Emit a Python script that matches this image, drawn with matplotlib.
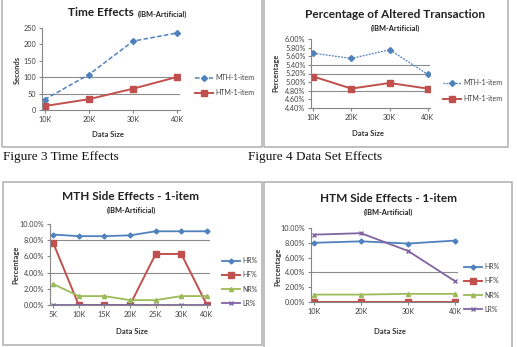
import matplotlib
matplotlib.use("Agg")
import matplotlib.pyplot as plt
from matplotlib.patches import Rectangle
from matplotlib.ticker import FuncFormatter

W, H = 517, 347

# data
sizes4 = ["10K", "20K", "30K", "40K"]
time_mth = [32, 108, 210, 235]
time_htm = [12, 33, 65, 101]

alt_mth = [5.67, 5.55, 5.75, 5.18]
alt_htm = [5.13, 4.85, 4.98, 4.85]

sizes7 = ["5K", "10K", "15K", "20K", "25K", "30K", "40K"]
mth_hr = [8.7, 8.5, 8.5, 8.6, 9.1, 9.1, 9.1]
mth_hf = [7.7, 0.0, 0.0, 0.0, 6.3, 6.3, 0.0]
mth_nr = [2.6, 1.1, 1.1, 0.6, 0.6, 1.1, 1.1]
mth_lr = [0.0, 0.0, 0.0, 0.0, 0.0, 0.0, 0.0]

htm_hr = [8.0, 8.2, 7.9, 8.3]
htm_hf = [0.0, 0.0, 0.0, 0.0]
htm_nr = [1.0, 1.0, 1.1, 1.1]
htm_lr = [9.1, 9.3, 6.9, 2.8]

BLUE = "#4F81BD"
RED = "#C0504D"
GREEN = "#9BBB59"
PURPLE = "#8064A2"

plt.rcParams["font.family"] = ["Lato", "DejaVu Sans"]

fig = plt.figure(figsize=(W / 100, H / 100), dpi=100)


def px(x0, y0, x1, y1):
    return [x0 / W, 1 - y1 / H, (x1 - x0) / W, (y1 - y0) / H]


def fx(x):
    return x / W


def fy(y):
    return 1 - y / H


# boxes around each chart
for x0, y0, x1, y1 in [(2, -3, 262, 147), (264, -3, 508, 147),
                       (3, 182, 262, 345), (264, 182, 512, 352)]:
    fig.patches.append(Rectangle((fx(x0), fy(y1)), fx(x1 - x0), (y1 - y0) / H,
                                 transform=fig.transFigure, fill=False,
                                 edgecolor="#b4b4b4", lw=1.2))


def style(ax, cats, ylim, yticks, fmt, grid):
    ax.set_xlim(-0.06 * (len(cats) - 1) / 3, len(cats) - 1 + 0.06 * (len(cats) - 1) / 3)
    ax.set_ylim(*ylim)
    ax.set_xticks(range(len(cats)))
    ax.set_xticklabels(cats)
    ax.set_yticks(yticks)
    ax.yaxis.set_major_formatter(FuncFormatter(fmt))
    for g in grid:
        ax.axhline(g, color="#8c8c8c", lw=0.8, zorder=0)
    ax.spines["top"].set_visible(False)
    ax.spines["right"].set_visible(False)
    ax.spines["left"].set_color("#868686")
    ax.spines["bottom"].set_color("#868686")
    ax.tick_params(labelsize=5.2, length=2, color="#868686", pad=2, labelcolor="#404040")


def titles(cx, ty, main, sub, sy=None, inline=False):
    if inline:
        fig.text(fx(cx), fy(ty), main, ha="right", va="center",
                 fontsize=8.5, fontweight="bold", color="#222222")
        fig.text(fx(cx + 4), fy(ty + 1), sub, ha="left", va="center",
                 fontsize=5.3, fontweight="bold", color="#222222")
    else:
        fig.text(fx(cx), fy(ty), main, ha="center", va="center",
                 fontsize=8.5, fontweight="bold", color="#222222")
        fig.text(fx(cx), fy(sy), sub, ha="center", va="center",
                 fontsize=5.3, fontweight="bold", color="#222222")


def labels(ylx, yly, ylab, xlx, xly):
    fig.text(fx(ylx), fy(yly), ylab, rotation=90, ha="center", va="center",
             fontsize=5.5, fontweight="bold", color="#333333")
    fig.text(fx(xlx), fy(xly), "Data Size", ha="center", va="center",
             fontsize=5.5, fontweight="bold", color="#333333")


def legend(ax, x, y, spacing):
    ax.legend(loc="upper left", bbox_to_anchor=(fx(x), fy(y)),
              bbox_transform=fig.transFigure, frameon=False, fontsize=5,
              handlelength=2.6, handletextpad=0.3, labelspacing=spacing,
              borderpad=0, borderaxespad=0, labelcolor="#404040")


# Figure 3: time effects
ax1 = fig.add_axes(px(42, 28, 180, 110))
ax1.plot(range(4), time_mth, color=BLUE, ls=(0, (3, 1.5)), lw=1.1,
         marker="D", ms=3, label="MTH-1-item")
ax1.plot(range(4), time_htm, color=RED, lw=1.4, marker="s", ms=4, label="HTM-1-item")
style(ax1, sizes4, (0, 250), range(0, 251, 50), lambda v, p: f"{v:.0f}", [50, 100])
titles(134, 13, "Time Effects", "(IBM-Artificial)", inline=True)
labels(17, 70, "Seconds", 108, 135)
legend(ax1, 195, 74, 1.2)

# Figure 4: altered transaction
ax2 = fig.add_axes(px(311, 39, 430, 108))
ax2.plot(range(4), alt_mth, color=BLUE, ls=(0, (1.5, 1)), lw=0.9,
         marker="D", ms=3, label="MTH-1-item")
ax2.plot(range(4), alt_htm, color=RED, lw=1.4, marker="s", ms=4, label="HTM-1-item")
style(ax2, sizes4, (4.40, 6.00), [4.4 + 0.2 * i for i in range(9)],
      lambda v, p: f"{v:.2f}%", [4.8, 5.2, 5.4])
titles(395, 15, "Percentage of Altered Transaction", "(IBM-Artificial)", sy=28)
labels(276, 73, "Percentage", 368, 134)
legend(ax2, 443, 79, 1.3)

# MTH side effects
ax3 = fig.add_axes(px(50, 224, 210, 305))
ax3.plot(range(7), mth_hr, color=BLUE, lw=1.3, marker="D", ms=2.5, label="HR%")
ax3.plot(range(7), mth_hf, color=RED, lw=1.4, marker="s", ms=4, label="HF%")
ax3.plot(range(7), mth_nr, color=GREEN, lw=1.3, marker="^", ms=3, label="NR%")
ax3.plot(range(7), mth_lr, color=PURPLE, lw=1.3, marker="x", ms=3, label="LR%")
style(ax3, sizes7, (0, 10), range(0, 11, 2), lambda v, p: f"{v:.2f}%", [4, 8])
titles(131, 197, "MTH Side Effects - 1-item", "(IBM-Artificial)", sy=210)
labels(16, 265, "Percentage", 132, 332)
legend(ax3, 222, 257, 1.05)

# HTM side effects
ax4 = fig.add_axes(px(311, 228, 458, 302))
ax4.plot(range(4), htm_hr, color=BLUE, lw=1.3, marker="D", ms=2.5, label="HR%")
ax4.plot(range(4), htm_hf, color=RED, lw=1.4, marker="s", ms=4, label="HF%")
ax4.plot(range(4), htm_nr, color=GREEN, lw=1.3, marker="^", ms=3, label="NR%")
ax4.plot(range(4), htm_lr, color=PURPLE, lw=1.3, marker="x", ms=3, label="LR%")
style(ax4, sizes4, (0, 10), range(0, 11, 2), lambda v, p: f"{v:.2f}%", [4])
titles(388, 198, "HTM Side Effects - 1-item", "(IBM-Artificial)", sy=212)
labels(278, 267, "Percentage", 390, 331)
legend(ax4, 464, 263, 1.05)

# captions
fig.text(fx(3), fy(157), "Figure 3 Time Effects", ha="left", va="center",
         fontsize=9.5, family="Liberation Serif", color="#111111")
fig.text(fx(248), fy(157), "Figure 4 Data Set Effects", ha="left", va="center",
         fontsize=9.5, family="Liberation Serif", color="#111111")

fig.savefig("out.png", dpi=100)
